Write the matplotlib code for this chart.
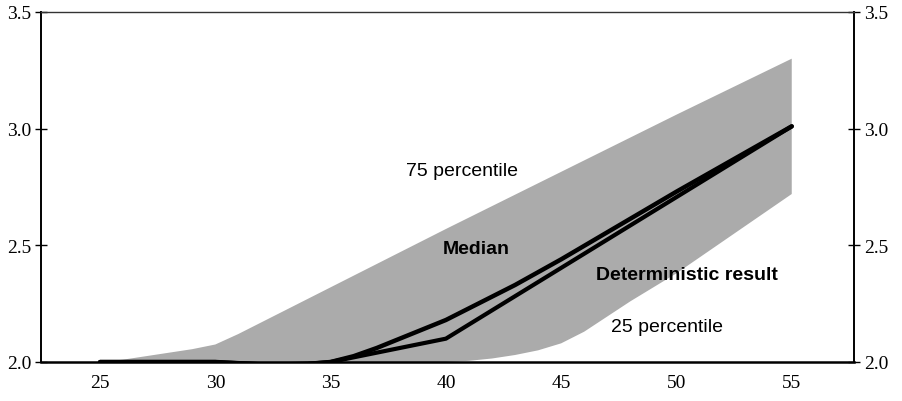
import matplotlib
matplotlib.use("Agg")
import matplotlib.pyplot as plt

# band edges (25 / 75 percentile)
band_x = [25, 26, 27, 28, 29, 30, 31, 32, 33, 34, 35, 40, 45, 50, 55]
band_hi = [2.0, 2.01, 2.025, 2.04, 2.055, 2.075, 2.12, 2.17, 2.22, 2.27, 2.32, 2.57, 2.815, 3.06, 3.30]
band_lo_x = [25, 40, 41, 42, 43, 44, 45, 46, 47, 48, 49, 50, 55]
band_lo = [2.0, 2.0, 2.005, 2.015, 2.03, 2.05, 2.08, 2.13, 2.195, 2.26, 2.32, 2.38, 2.72]

# median and deterministic result
line_x = [25, 30, 31, 32, 33, 34, 35, 36, 37, 38, 39, 40, 41, 42, 43, 44, 45, 50, 55]
median = [2.0, 2.0, 1.995, 1.99, 1.99, 1.992, 2.0, 2.025, 2.06, 2.10, 2.14, 2.18, 2.23, 2.28, 2.33, 2.385, 2.44, 2.73, 3.01]
determ_x = [25, 30, 31, 32, 33, 34, 35, 36, 37, 38, 39, 40, 55]
determ = [2.0, 2.0, 1.995, 1.99, 1.99, 1.992, 2.0, 2.02, 2.04, 2.06, 2.08, 2.10, 3.01]

xticks = [25, 30, 35, 40, 45, 50, 55]
yticks = [2.0, 2.5, 3.0, 3.5]

fig = plt.figure(figsize=(9.02, 4.02), dpi=100)
ax = fig.add_axes([41/902, 39/402, 813/902, 350/402])

# polygon of the band: upper edge left to right, lower edge back
poly_x = band_x + band_lo_x[::-1]
poly_y = band_hi + band_lo[::-1]
ax.fill(poly_x, poly_y, color='#ababab', lw=0, zorder=1)
ax.plot(line_x, median, color='black', lw=3.2, solid_capstyle='round', zorder=3)
ax.plot(determ_x, determ, color='black', lw=3.0, solid_capstyle='round', zorder=3)

ax.set_xlim(22.44, 57.70)
ax.set_ylim(2.0, 3.5)
ax.set_xticks(xticks)
ax.set_yticks(yticks)
ax.set_xticklabels([str(v) for v in xticks], family='Liberation Serif', fontsize=14)
ax.set_yticklabels(['%.1f' % v for v in yticks], family='Liberation Serif', fontsize=14)
ax.tick_params(axis='x', length=0, pad=9)
ax.tick_params(axis='y', which='both', direction='inout', length=8, width=1,
               left=True, right=True, labelleft=True, labelright=True, pad=3)

for s in ['left', 'right']:
    ax.spines[s].set_linewidth(1.4)
ax.spines['top'].set_linewidth(1.0)
ax.spines['top'].set_color('#333333')
ax.spines['bottom'].set_linewidth(1.8)

txt = dict(family='Liberation Sans', fontsize=14, ha='center', va='center', zorder=4)
ax.text(40.7, 2.82, '75 percentile', **txt)
ax.text(41.33, 2.485, 'Median', fontweight='bold', **txt)
ax.text(50.45, 2.377, 'Deterministic result', fontweight='bold', **txt)
ax.text(49.6, 2.15, '25 percentile', **txt)

fig.savefig('out.png', dpi=100)
